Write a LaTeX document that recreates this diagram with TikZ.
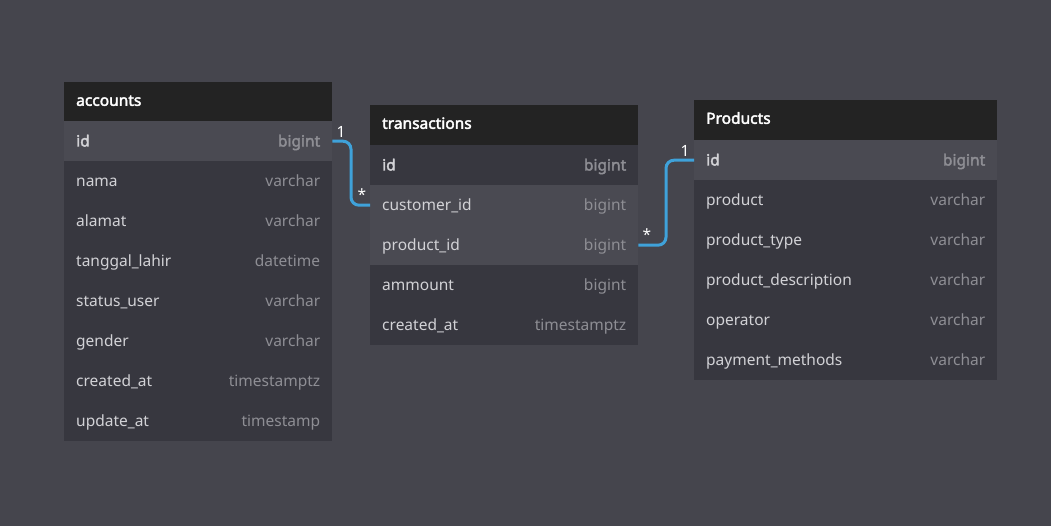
\documentclass[tikz,border=0pt]{standalone}
\usepackage{fontspec}
\setmainfont{Noto Sans}[AutoFakeBold=2.5]
\definecolor{bgc}{HTML}{45454D}
\definecolor{bodyc}{HTML}{37373F}
\definecolor{hic}{HTML}{4A4A52}
\definecolor{headc}{HTML}{232323}
\definecolor{namec}{HTML}{D2D2D6}
\definecolor{typec}{HTML}{8E8E94}
\definecolor{linkc}{HTML}{3FA2DA}
\tikzset{
  x=1pt,y=-1pt,
  tblhead/.style={fill=headc, anchor=north west, minimum height=40pt, inner xsep=12pt, inner ysep=0pt,
    text width=#1, font=\fontsize{15.5}{18}\selectfont\bfseries, text=white},
  tblrow/.style={fill=bodyc, anchor=north west, minimum height=40pt, inner xsep=12pt, inner ysep=0pt,
    text width=#1, font=\fontsize{15.5}{18}\selectfont, text=namec},
  hirow/.style={tblrow=#1, fill=hic},
  keyrow/.style={hirow=#1, font=\fontsize{15.5}{18}\selectfont\bfseries},
  link/.style={draw=linkc, line width=3pt, rounded corners=8pt},
  card/.style={text=white, font=\fontsize{15.5}{18}\selectfont, inner sep=0pt}
}
\newcommand{\rowtext}[2]{\rule[-4pt]{0pt}{18.6pt}#1\hfill{\color{typec}#2}}
\begin{document}
\begin{tikzpicture}
\fill[bgc] (0,0) rectangle (1051,526);
\useasboundingbox (0,0) rectangle (1051,526);
% accounts
\node[tblhead=244pt] (acc) at (64,82) {\strut accounts};
\node[keyrow=244pt] (acc-id) at (64,121) {\rowtext{id}{bigint}};
\node[tblrow=244pt] (acc-nama) at (64,161) {\rowtext{nama}{varchar}};
\node[tblrow=244pt] (acc-alamat) at (64,201) {\rowtext{alamat}{varchar}};
\node[tblrow=244pt] (acc-tgl) at (64,241) {\rowtext{tanggal\_lahir}{datetime}};
\node[tblrow=244pt] (acc-status) at (64,281) {\rowtext{status\_user}{varchar}};
\node[tblrow=244pt] (acc-gender) at (64,321) {\rowtext{gender}{varchar}};
\node[tblrow=244pt] (acc-created) at (64,361) {\rowtext{created\_at}{timestamptz}};
\node[tblrow=244pt] (acc-update) at (64,401) {\rowtext{update\_at}{timestamp}};
% transactions
\node[tblhead=244pt] (trx) at (370,105) {\strut transactions};
\node[tblrow=244pt, font=\fontsize{15.5}{18}\selectfont\bfseries] (trx-id) at (370,145) {\rowtext{id}{bigint}};
\node[hirow=244pt] (trx-cust) at (370,185) {\rowtext{customer\_id}{bigint}};
\node[hirow=244pt] (trx-prod) at (370,225) {\rowtext{product\_id}{bigint}};
\node[tblrow=244pt] (trx-amount) at (370,265) {\rowtext{ammount}{bigint}};
\node[tblrow=244pt] (trx-created) at (370,305) {\rowtext{created\_at}{timestamptz}};
% products
\node[tblhead=279pt] (prd) at (694,100) {\strut Products};
\node[keyrow=279pt] (prd-id) at (694,140) {\rowtext{id}{bigint}};
\node[tblrow=279pt] (prd-product) at (694,180) {\rowtext{product}{varchar}};
\node[tblrow=279pt] (prd-type) at (694,220) {\rowtext{product\_type}{varchar}};
\node[tblrow=279pt] (prd-desc) at (694,260) {\rowtext{product\_description}{varchar}};
\node[tblrow=279pt] (prd-op) at (694,300) {\rowtext{operator}{varchar}};
\node[tblrow=279pt] (prd-pay) at (694,340) {\rowtext{payment\_methods}{varchar}};
% links
\draw[link] (acc-id.east) -| (351,171) |- (trx-cust.west);
\draw[link] (trx-prod.east) -| (666,200) |- (prd-id.west);
% cardinalities
\node[card] (c1) at (341,132) {1};
\node[card] (c2) at (362,195) {*};
\node[card] (c3) at (647,235) {*};
\node[card] (c4) at (685,151) {1};
\end{tikzpicture}
\end{document}
